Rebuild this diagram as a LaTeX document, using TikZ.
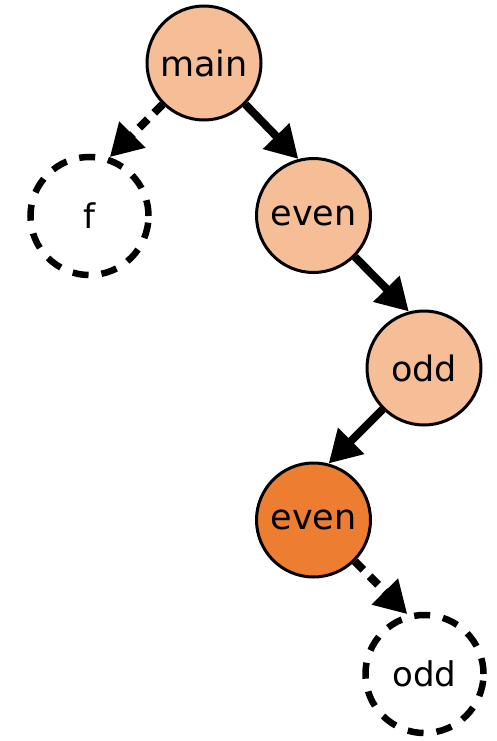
\documentclass[tikz,border=0pt]{standalone}
\usepackage{fontspec}
\setmainfont{DejaVu Sans}
\usetikzlibrary{arrows.meta}
\definecolor{lightorange}{RGB}{245,190,150}
\definecolor{darkorange}{RGB}{237,125,49}
\begin{document}
\begin{tikzpicture}[x=1pt,y=-1pt,
  callnode/.style={circle,draw=black,line width=3pt,minimum size=114pt,inner sep=0pt,font=\fontsize{35}{40}\selectfont},
  pending/.style={circle,draw=black,line width=6.5pt,dash pattern=on 16pt off 13pt,minimum size=118pt,inner sep=0pt,font=\fontsize{34}{40}\selectfont},
  callarrow/.style={line width=8pt,-{Triangle[length=32pt,width=35pt]}},
  dasharrow/.style={callarrow,dash pattern=on 12pt off 9pt}]
\useasboundingbox (0,0) rectangle (497,741);
\node[callnode,fill=lightorange] (main) at (204,63) {main};
\node[pending] (f) at (89.5,216) {f};
\node[callnode,fill=lightorange] (even1) at (313.5,215.5) {even};
\node[callnode,fill=lightorange] (odd1) at (424,368) {odd};
\node[callnode,fill=darkorange] (even2) at (313.5,520) {even};
\node[pending] (odd2) at (424.5,674) {odd};
\draw[dasharrow] (main.south west) -- (f.71);
\draw[callarrow] (main.south east) -- (even1.105);
\draw[callarrow] (even1.south east) -- (odd1.105);
\draw[callarrow] (odd1.south west) -- (even2.75);
\draw[dasharrow] (even2.south east) -- (odd2.106);
\end{tikzpicture}
\end{document}
